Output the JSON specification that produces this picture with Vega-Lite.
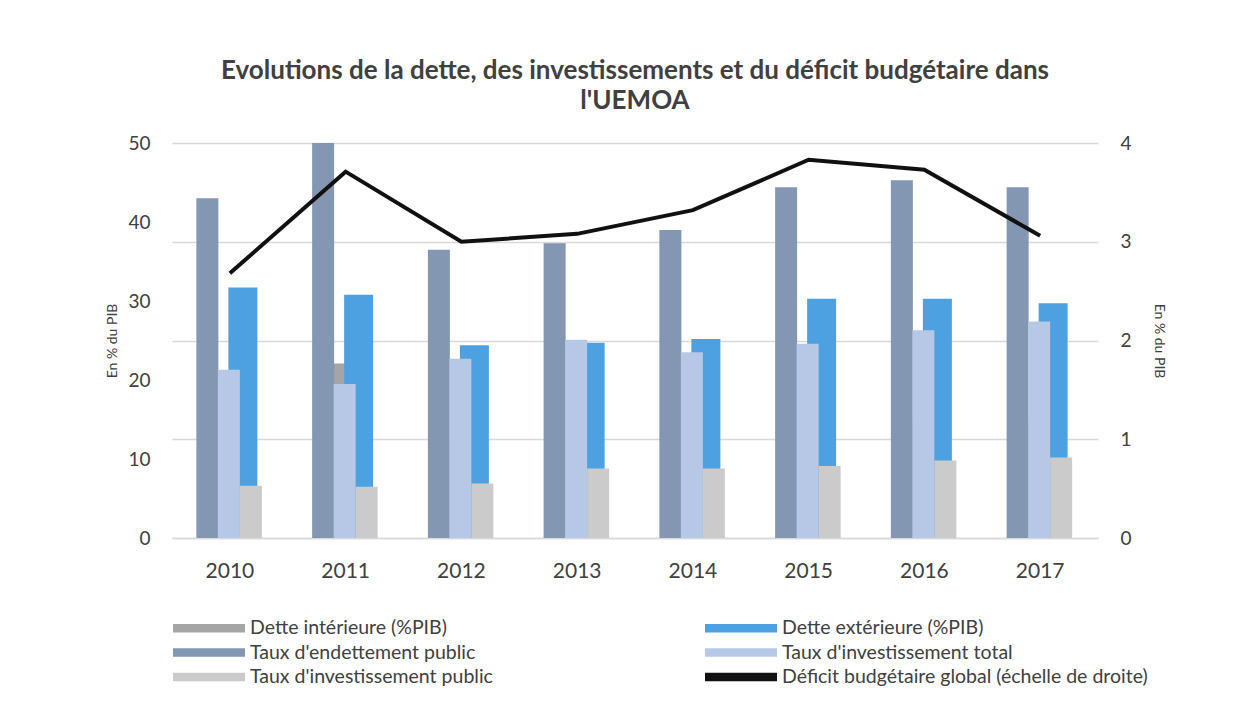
{
  "$schema": "https://vega.github.io/schema/vega-lite/v6.json",
  "width": 926,
  "height": 395,
  "autosize": {"type": "none"},
  "padding": {"left": 172, "top": 143, "right": 159, "bottom": 182},
  "background": "#ffffff",
  "config": {
    "font": "Lato",
    "view": {"stroke": null},
    "axis": {"labelColor": "#404040", "titleColor": "#404040", "labelFont": "Lato", "titleFont": "Lato"}
  },
  "title": {
    "text": ["Evolutions de la dette, des investissements et du déficit budgétaire dans", "l'UEMOA"],
    "fontSize": 26,
    "fontWeight": "bold",
    "color": "#404040",
    "anchor": "middle",
    "lineHeight": 30,
    "offset": 20
  },
  "datasets": {
    "bars": [
      {"year": "2010", "series": "Dette intérieure (%PIB)", "value": 11.3},
      {"year": "2011", "series": "Dette intérieure (%PIB)", "value": 22.1},
      {"year": "2012", "series": "Dette intérieure (%PIB)", "value": 12.1},
      {"year": "2013", "series": "Dette intérieure (%PIB)", "value": 12.6},
      {"year": "2014", "series": "Dette intérieure (%PIB)", "value": 13.8},
      {"year": "2015", "series": "Dette intérieure (%PIB)", "value": 14.1},
      {"year": "2016", "series": "Dette intérieure (%PIB)", "value": 15.0},
      {"year": "2017", "series": "Dette intérieure (%PIB)", "value": 14.7},
      {"year": "2010", "series": "Taux d'endettement public", "value": 43.0},
      {"year": "2011", "series": "Taux d'endettement public", "value": 50.0},
      {"year": "2012", "series": "Taux d'endettement public", "value": 36.5},
      {"year": "2013", "series": "Taux d'endettement public", "value": 37.3},
      {"year": "2014", "series": "Taux d'endettement public", "value": 39.0},
      {"year": "2015", "series": "Taux d'endettement public", "value": 44.4},
      {"year": "2016", "series": "Taux d'endettement public", "value": 45.3},
      {"year": "2017", "series": "Taux d'endettement public", "value": 44.4},
      {"year": "2010", "series": "Dette extérieure (%PIB)", "value": 31.7},
      {"year": "2011", "series": "Dette extérieure (%PIB)", "value": 30.8},
      {"year": "2012", "series": "Dette extérieure (%PIB)", "value": 24.4},
      {"year": "2013", "series": "Dette extérieure (%PIB)", "value": 24.7},
      {"year": "2014", "series": "Dette extérieure (%PIB)", "value": 25.2},
      {"year": "2015", "series": "Dette extérieure (%PIB)", "value": 30.3},
      {"year": "2016", "series": "Dette extérieure (%PIB)", "value": 30.3},
      {"year": "2017", "series": "Dette extérieure (%PIB)", "value": 29.7},
      {"year": "2010", "series": "Taux d'investissement total", "value": 21.3},
      {"year": "2011", "series": "Taux d'investissement total", "value": 19.5},
      {"year": "2012", "series": "Taux d'investissement total", "value": 22.7},
      {"year": "2013", "series": "Taux d'investissement total", "value": 25.1},
      {"year": "2014", "series": "Taux d'investissement total", "value": 23.5},
      {"year": "2015", "series": "Taux d'investissement total", "value": 24.6},
      {"year": "2016", "series": "Taux d'investissement total", "value": 26.3},
      {"year": "2017", "series": "Taux d'investissement total", "value": 27.4},
      {"year": "2010", "series": "Taux d'investissement public", "value": 6.6},
      {"year": "2011", "series": "Taux d'investissement public", "value": 6.5},
      {"year": "2012", "series": "Taux d'investissement public", "value": 6.9},
      {"year": "2013", "series": "Taux d'investissement public", "value": 8.8},
      {"year": "2014", "series": "Taux d'investissement public", "value": 8.8},
      {"year": "2015", "series": "Taux d'investissement public", "value": 9.1},
      {"year": "2016", "series": "Taux d'investissement public", "value": 9.8},
      {"year": "2017", "series": "Taux d'investissement public", "value": 10.2}
    ],
    "deficit": [
      {"year": "2010", "series": "Déficit budgétaire global (échelle de droite)", "value": 2.68},
      {"year": "2011", "series": "Déficit budgétaire global (échelle de droite)", "value": 3.71},
      {"year": "2012", "series": "Déficit budgétaire global (échelle de droite)", "value": 3.0},
      {"year": "2013", "series": "Déficit budgétaire global (échelle de droite)", "value": 3.08},
      {"year": "2014", "series": "Déficit budgétaire global (échelle de droite)", "value": 3.32},
      {"year": "2015", "series": "Déficit budgétaire global (échelle de droite)", "value": 3.83},
      {"year": "2016", "series": "Déficit budgétaire global (échelle de droite)", "value": 3.73},
      {"year": "2017", "series": "Déficit budgétaire global (échelle de droite)", "value": 3.06}
    ]
  },
  "encoding": {
    "x": {
      "field": "year",
      "type": "ordinal",
      "scale": {"paddingInner": 0, "paddingOuter": 0},
      "axis": {
        "title": null,
        "labelAngle": 0,
        "labelFontSize": 21,
        "labelPadding": 22,
        "ticks": false,
        "domainColor": "#d9d9d9",
        "domainWidth": 1.5
      }
    },
    "color": {
      "field": "series",
      "type": "nominal",
      "scale": {
        "domain": ["Dette intérieure (%PIB)", "Dette extérieure (%PIB)", "Taux d'endettement public", "Taux d'investissement total", "Taux d'investissement public", "Déficit budgétaire global (échelle de droite)"],
        "range": ["#a5a5a5", "#4ea1e0", "#8396b2", "#b6c8e6", "#cbcbcb", "#111111"]
      },
      "legend": {
        "title": null,
        "orient": "none",
        "legendX": 27,
        "legendY": 475,
        "columns": 2,
        "direction": "horizontal",
        "symbolType": "M-3.6,-0.43H3.6V0.43H-3.6Z",
        "symbolSize": 400,
        "symbolStrokeWidth": 0,
        "labelFontSize": 19.5,
        "labelColor": "#404040",
        "labelLimit": 600,
        "labelOffset": 31,
        "columnPadding": 212,
        "rowPadding": 4.5
      }
    }
  },
  "layer": [
    {
      "data": {"name": "bars"},
      "encoding": {
        "y": {
          "field": "value",
          "type": "quantitative",
          "scale": {"domain": [0, 50], "nice": false},
          "axis": {
            "values": [0, 10, 20, 30, 40, 50],
            "grid": false,
            "domain": false,
            "ticks": false,
            "labelFontSize": 19,
            "labelPadding": 22,
            "title": "En % du PIB",
            "titleFontSize": 14,
            "titleFontWeight": "normal",
            "titlePadding": 8
          }
        }
      },
      "layer": [
        {
          "transform": [{"filter": "datum.series === 'Dette intérieure (%PIB)'"}],
          "mark": {"type": "bar", "width": 22, "xOffset": -7}
        },
        {
          "transform": [{"filter": "datum.series === \"Taux d'endettement public\""}],
          "mark": {"type": "bar", "width": 22, "xOffset": -22.5}
        },
        {
          "transform": [{"filter": "datum.series === 'Dette extérieure (%PIB)'"}],
          "mark": {"type": "bar", "width": 29, "xOffset": 13}
        },
        {
          "transform": [{"filter": "datum.series === \"Taux d'investissement total\""}],
          "mark": {"type": "bar", "width": 22, "xOffset": -1}
        },
        {
          "transform": [{"filter": "datum.series === \"Taux d'investissement public\""}],
          "mark": {"type": "bar", "width": 22, "xOffset": 21}
        }
      ]
    },
    {
      "data": {"name": "deficit"},
      "mark": {"type": "line", "strokeWidth": 4, "color": "#111111"},
      "encoding": {
        "y": {
          "field": "value",
          "type": "quantitative",
          "scale": {"domain": [0, 4], "nice": false},
          "axis": {
            "orient": "right",
            "values": [0, 1, 2, 3, 4],
            "grid": true,
            "gridColor": "#d9d9d9",
            "gridWidth": 1.5,
            "domain": false,
            "ticks": false,
            "labelFontSize": 19,
            "labelPadding": 22,
            "title": "En % du PIB",
            "titleFontSize": 14,
            "titleFontWeight": "normal",
            "titlePadding": 20
          }
        }
      }
    }
  ],
  "resolve": {"scale": {"y": "independent"}}
}
